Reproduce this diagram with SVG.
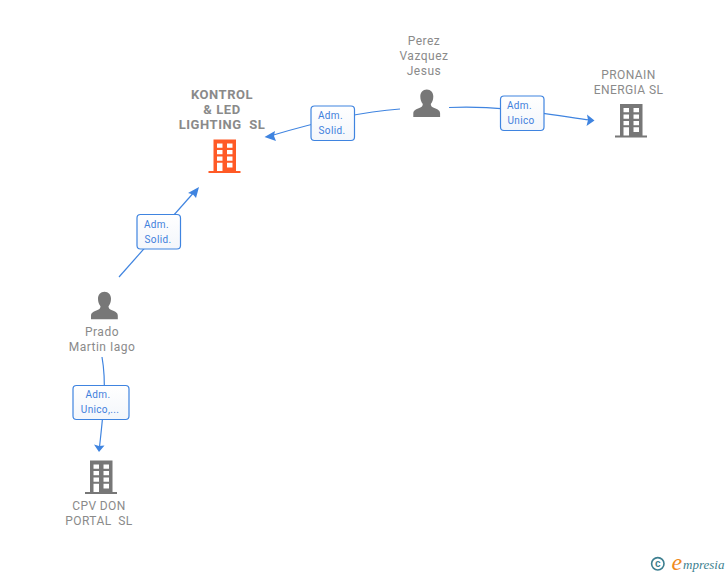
<svg xmlns="http://www.w3.org/2000/svg" width="728" height="575" viewBox="0 0 728 575">
<style>
.n{font-family:Roboto,"Liberation Sans",sans-serif;font-size:12px;fill:#8a8a8a;text-anchor:middle;letter-spacing:.5px}
.c{letter-spacing:.4px}
.b{font-weight:bold;font-size:13px;letter-spacing:.55px}
.l{font-family:Roboto,"Liberation Sans",sans-serif;font-size:10px;fill:#3f7fdc;text-anchor:middle;letter-spacing:.35px}
.box{fill:url(#g);stroke:#3f84e0;stroke-width:1.2}
.e{fill:none;stroke:#3f84e0;stroke-width:1.2}
.a{fill:#3f84e0}
.gray{fill:#777777}
.org{fill:#ff5a26}
</style>
<defs>
<linearGradient id="g" x1="0" y1="0" x2="0" y2="1"><stop offset="0" stop-color="#ffffff"/><stop offset="1" stop-color="#f3f6fb"/></linearGradient>
<symbol id="bld" viewBox="0 0 32 34" width="32" height="34" overflow="visible">
<path fill-rule="evenodd" d="M5 0H27.500V31.500H32V33.500H0V31.500H5ZM8.500 4V8.300H14V4ZM18.500 4V8.300H24V4ZM8.500 10.500V14.800H14V10.500ZM18.500 10.500V14.800H24V10.500ZM8.500 17V21.200H14V17ZM18.500 17V21.200H24V17ZM8.500 23.300V31.500H14V23.300ZM18.500 23.300V28H24V23.300Z"/>
</symbol>
<symbol id="per" viewBox="0 0 27 28" width="27" height="28" overflow="visible">
<path d="M13.500 0C17.500 0 20 3 20 7C20 10 19 12.500 17.500 14.500C17.500 16.500 18.500 17.500 21 18.500C24.500 20 26.800 21 26.800 24V27.500H0V24C0 21 2.500 20 6 18.500C8.500 17.500 9.500 16.500 9.500 14.500C8 12.500 7 10 7 7C7 3 9.500 0 13.500 0Z"/>
</symbol>
</defs>
<g id="connectors">
<path class="e" d="M119 277L196 190"/>
<path class="a" d="M199 187L196 198L193 194.500L188 193Z"/>
<path class="e" d="M400 109C355 112 310 124 270 136"/>
<path class="a" d="M264.500 137L275 131L274 136L276 141Z"/>
<path class="e" d="M449 107.500C495 105 540 113 590 120"/>
<path class="a" d="M594.500 120.500L587 114.500L588 120L586.500 126Z"/>
<path class="e" d="M102 357C107 385 103 415 99.500 447"/>
<path class="a" d="M99 452L94 444.500L99 446L104.500 445.500Z"/>
</g>
<g id="label-1"><rect class="box" x="311" y="106" width="43.500" height="34.500" rx="3.500"/><text class="l" x="330.500" y="119">Adm.</text><text class="l" x="332" y="134">Solid.</text></g>
<g id="label-2"><rect class="box" x="500.500" y="96" width="43.500" height="34.500" rx="3.500"/><text class="l" x="519.500" y="109">Adm.</text><text class="l" x="521" y="124">Unico</text></g>
<g id="label-3"><rect class="box" x="137" y="214.500" width="43.500" height="34.500" rx="3.500"/><text class="l" x="156.500" y="228">Adm.</text><text class="l" x="158" y="243">Solid.</text></g>
<g id="label-4"><rect class="box" x="73" y="385.500" width="56" height="34" rx="3.500"/><text class="l" x="98" y="398">Adm.</text><text class="l" x="100" y="413">Unico,...</text></g>
<g id="kontrol"><text class="n b" x="222" y="99">KONTROL</text><text class="n b" x="222" y="114">&amp; LED</text><text class="n b" x="222" y="129" xml:space="preserve">LIGHTING  SL</text><use href="#bld" x="208.500" y="139.500" class="org"/></g>
<g id="perez"><text class="n" x="424" y="45">Perez</text><text class="n" x="424" y="60">Vazquez</text><text class="n" x="424" y="75">Jesus</text><use href="#per" x="413.300" y="89.500" class="gray"/></g>
<g id="pronain"><text class="n c" x="628.500" y="79">PRONAIN</text><text class="n c" x="628.500" y="94">ENERGIA SL</text><use href="#bld" x="615" y="104" class="gray"/></g>
<g id="prado"><use href="#per" x="91" y="291.700" class="gray"/><text class="n" x="102" y="336">Prado</text><text class="n" x="102" y="351">Martin Iago</text></g>
<g id="cpv"><use href="#bld" x="85" y="460.500" class="gray"/><text class="n c" x="99" y="510">CPV DON</text><text class="n c" x="99" y="525" xml:space="preserve">PORTAL  SL</text></g>
<g id="logo"><circle cx="657.800" cy="563.800" r="6.200" fill="none" stroke="#3d7f90" stroke-width="1.600"/><text x="657.800" y="567.300" font-family="'Liberation Sans',sans-serif" font-size="10" font-weight="bold" fill="#3d7f90" text-anchor="middle">c</text><text x="671.500" y="569.500" font-family="'Liberation Serif',serif" font-style="italic" font-size="24" fill="#f08a1d">e</text><text x="683" y="569" font-family="'Liberation Serif',serif" font-style="italic" font-size="13" fill="#3d7f90">mpresia</text></g>
</svg>
